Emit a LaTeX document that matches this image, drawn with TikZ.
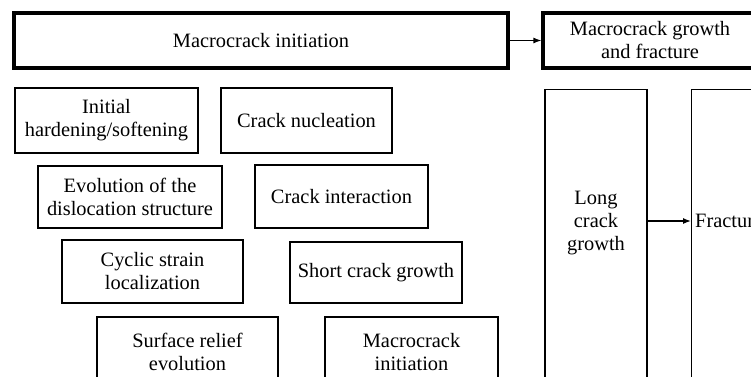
\documentclass[tikz,border=0pt]{standalone}
\usepackage{fontspec}
\setmainfont{Liberation Serif}
\usetikzlibrary{arrows.meta}

\begin{document}
\begin{tikzpicture}[x=1pt, y=-1pt,
  stagebox/.style={draw, line width=3.2pt, inner sep=0pt, align=center, minimum height=55pt},
  stepbox/.style={draw, line width=1.3pt, inner sep=0pt, align=center},
  every node/.style={font=\fontsize{20.4}{23}\selectfont}]
  \clip (0,0) rectangle (751,376);

  % Stages on top
  \node[stagebox, minimum width=494pt] (init) at (261,40.5) {Macrocrack initiation};
  \node[stagebox, minimum width=214pt] (growth) at (650,40.5) {Macrocrack growth\\and fracture};

  % Steps of initiation, left column
  \node[stepbox, minimum width=183pt, minimum height=65pt] (harden) at (106.5,120.5) {Initial\\hardening/softening};
  \node[stepbox, minimum width=184pt, minimum height=62pt] (disloc) at (130,197) {Evolution of the\\dislocation structure};
  \node[stepbox, minimum width=181pt, minimum height=63pt] (local) at (152.5,271.5) {Cyclic strain\\localization};
  \node[stepbox, minimum width=181pt, minimum height=70pt] (relief) at (187.5,352) {Surface relief\\evolution};

  % Steps of initiation, right column
  \node[stepbox, minimum width=171pt, minimum height=65pt] (nucl) at (306.5,120.5) {Crack nucleation};
  \node[stepbox, minimum width=173pt, minimum height=63pt] (inter) at (341.5,196.5) {Crack interaction};
  \node[stepbox, minimum width=172pt, minimum height=61pt] (short) at (376,272.5) {Short crack growth};
  \node[stepbox, minimum width=173pt, minimum height=70pt] (macro) at (411.5,352) {Macrocrack\\initiation};

  % Steps of growth
  \node[stepbox, minimum width=102pt, minimum height=320pt, anchor=north] (longbox) at (596,89) {};
  \node[align=center] (long) at (596,223) {Long\\crack\\growth};
  \node[stepbox, minimum width=120pt, minimum height=320pt, anchor=north west] (fracbox) at (691,89) {};
  \node[anchor=west, inner sep=0pt] (frac) at (695,221) {Fracture};

  % Arrows
  \draw[-{Latex[length=8pt, width=6pt]}, line width=1.3pt] (init) -- (growth);
  \draw[-{Latex[length=8pt, width=6pt]}, line width=1.3pt] (frac -| longbox.east) -- (frac -| fracbox.west);
\end{tikzpicture}
\end{document}
